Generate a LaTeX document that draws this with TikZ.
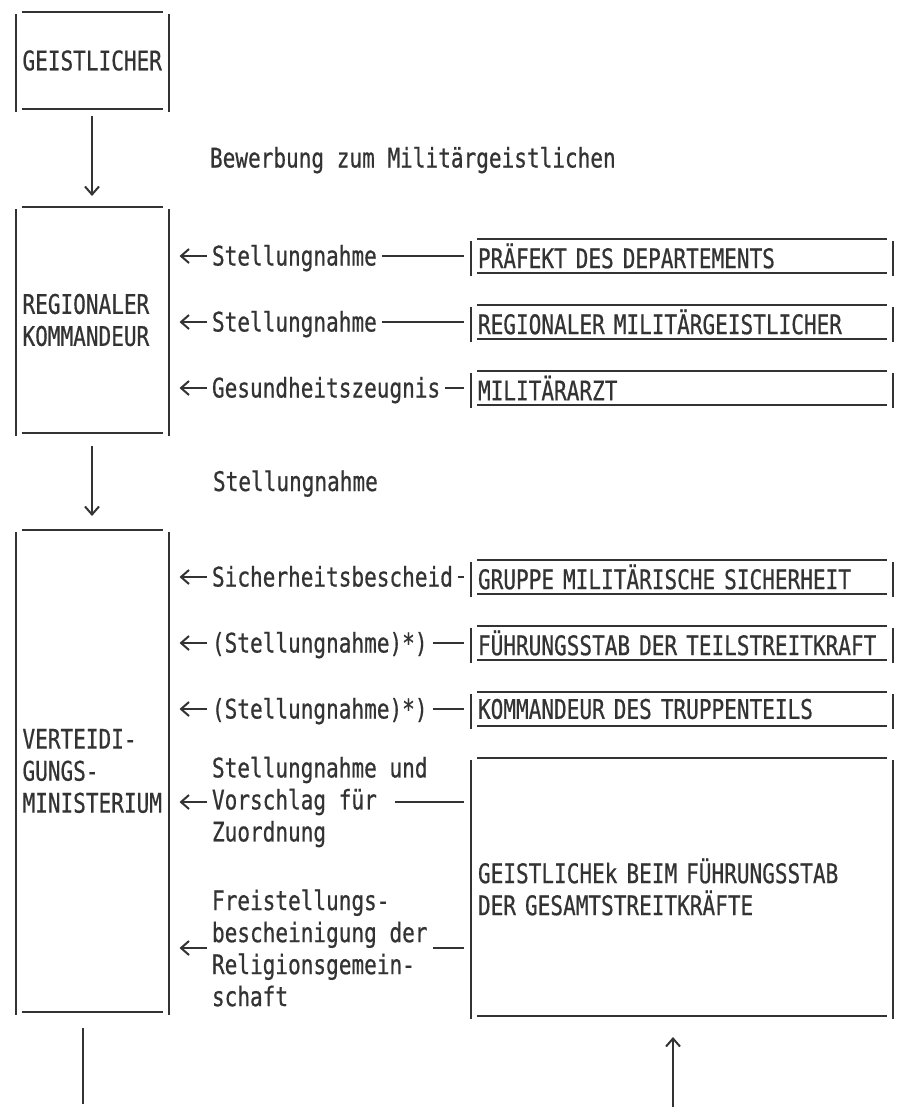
\documentclass[tikz,border=0pt]{standalone}
\usepackage{fontspec}
\setmainfont{DejaVu Sans Mono}[FakeStretch=0.78, FakeBold=0.6]
\usepackage{tikz}
\usetikzlibrary{positioning,arrows.meta}
\definecolor{TypeInk}{HTML}{333333}

% typewriter box: rules top and bottom, bars at the sides
\newcommand{\typedbox}[1]{%
  \draw ([xshift=6pt]#1.north west) -- ([xshift=-6pt]#1.north east)
        ([xshift=6pt]#1.south west) -- ([xshift=-6pt]#1.south east);
  \draw ([yshift=-2pt]#1.north west) -- ([yshift=-3pt]#1.south west)
        ([yshift=-2pt]#1.north east) -- ([yshift=-3pt]#1.south east);}

\begin{document}
\begin{tikzpicture}[x=1pt, y=-1pt, line width=2pt, color=TypeInk,
    >={Straight Barb[length=8pt,width=14pt]},
    every node/.style={font=\fontsize{27}{32}\selectfont},
    leftbox/.style={inner xsep=6pt, inner ysep=0pt, text width=139pt, align=left},
    rightbox/.style={inner xsep=6pt, inner ysep=0pt, text width=408pt, minimum height=32pt, align=left},
    lbl/.style={inner sep=0pt, outer xsep=5pt, text height=24pt, text depth=5pt, anchor=west},
    note/.style={inner sep=0pt, outer xsep=5pt, align=left, anchor=west},
    feed/.style={shorten <=7pt},
    reply/.style={->, shorten >=11pt}]
  \useasboundingbox (0,0) rectangle (899,1111);

  % left column
  \node[leftbox, minimum height=95pt] (geist) at (92,60.5) {GEISTLICHER};
  \node[leftbox, minimum height=224pt, below=98pt of geist] (regkom) {REGIONALER\\KOMMANDEUR};
  \node[leftbox, minimum height=480pt, below=97pt of regkom] (bmvg) {VERTEIDI-\\GUNGS-\\MINISTERIUM};

  % right column
  \node[rightbox] (praefekt) at (682,256) {PRÄFEKT DES DEPARTEMENTS};
  \node[rightbox, below=32pt of praefekt] (regmil) {REGIONALER MILITÄRGEISTLICHER};
  \node[rightbox, below=32pt of regmil] (arzt) {MILITÄRARZT};
  \node[rightbox] (mad) at (682,577) {GRUPPE MILITÄRISCHE SICHERHEIT};
  \node[rightbox, below=32pt of mad] (tsk) {FÜHRUNGSSTAB DER TEILSTREITKRAFT};
  \node[rightbox, below=32pt of tsk] (kdr) {KOMMANDEUR DES TRUPPENTEILS};
  \node[rightbox, minimum height=256pt, below=32pt of kdr] (gesamt) {GEISTLICHEk BEIM FÜHRUNGSSTAB\\DER GESAMTSTREITKRÄFTE};

  \foreach \b in {geist,regkom,bmvg,praefekt,regmil,arzt,mad,tsk,kdr,gesamt} {\typedbox{\b}}

  % down the left column
  \draw[->, shorten <=7pt, shorten >=11pt] (geist) -- node[lbl, midway, xshift=113pt] {Bewerbung zum Militärgeistlichen} (regkom);
  \draw[->, shorten <=13pt, shorten >=14pt] (regkom) -- node[lbl, midway, xshift=116pt] {Stellungnahme} (bmvg);

  % statements to the regional commander
  \coordinate (lx) at (207,0);
  \node[lbl] (s1) at (lx |- praefekt) {Stellungnahme};
  \node[lbl] (s2) at (lx |- regmil) {Stellungnahme};
  \node[lbl] (s3) at (lx |- arzt) {Gesundheitszeugnis};
  \foreach \src/\lab in {praefekt/s1, regmil/s2, arzt/s3} {
    \draw[feed] (\src.west |- \lab.east) -- (\lab.east);
    \draw[reply] (\lab.west) -- (\lab.west -| regkom.east);
  }

  % statements to the ministry
  \node[lbl] (s4) at (lx |- mad) {Sicherheitsbescheid};
  \node[lbl] (s5) at (lx |- tsk) {(Stellungnahme)*)};
  \node[lbl] (s6) at (lx |- kdr) {(Stellungnahme)*)};
  \node[note] (s7) at (207,802) {Stellungnahme und\\Vorschlag für\\Zuordnung};
  \node[note] (s8) at (207,948) {Freistellungs-\\bescheinigung der\\Religionsgemein-\\schaft};
  \foreach \src/\lab in {mad/s4, tsk/s5, kdr/s6, gesamt/s8} {
    \draw[feed] (\src.west |- \lab.east) -- (\lab.east);
  }
  \draw[feed, shorten >=-38pt] (gesamt.west |- s7.east) -- (s7.east);
  \foreach \lab in {s4,s5,s6,s7,s8} {
    \draw[reply] (\lab.west) -- (\lab.west -| bmvg.east);
  }

  % continued on the next page
  \coordinate (outL) at (83,1104);
  \coordinate (inR) at (673,1107);
  \draw[shorten <=16pt] (outL |- bmvg.south) -- (outL);
  \draw[->, shorten >=21pt] (inR) -- (inR |- gesamt.south);
\end{tikzpicture}
\end{document}
